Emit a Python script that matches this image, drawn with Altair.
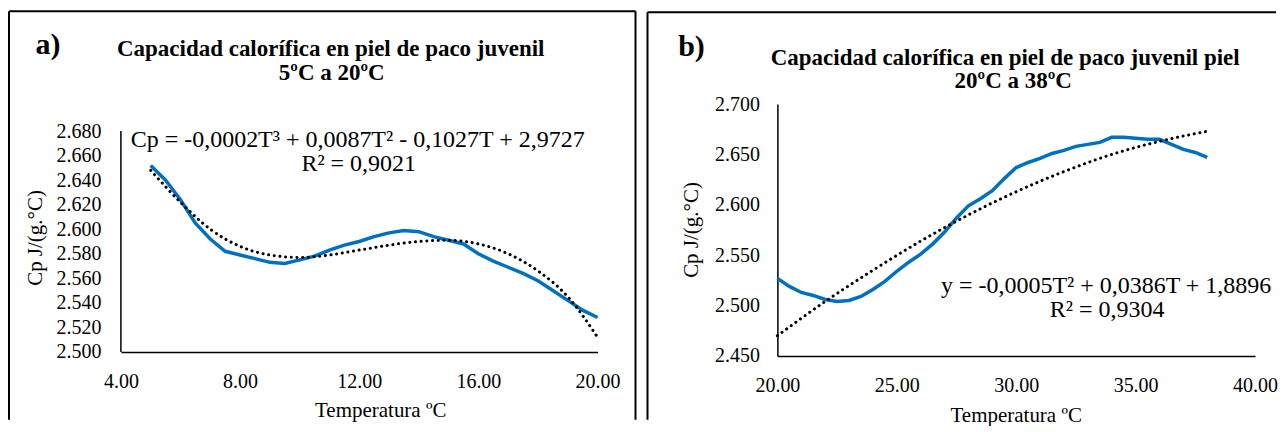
import altair as alt
import pandas as pd

SERIF = "Liberation Serif"
BLUE = "#0070C0"

# ---------------- Panel a) 5 ºC a 20 ºC ----------------
temp_a = [5.0, 5.5, 6.0, 6.5, 7.0, 7.5, 8.0, 8.5, 9.0, 9.5, 10.0, 10.5, 11.0, 11.5,
          12.0, 12.5, 13.0, 13.5, 14.0, 14.5, 15.0, 15.5, 16.0, 16.5, 17.0, 17.5,
          18.0, 18.5, 19.0, 19.5, 20.0]
cp_a = [2.652, 2.640, 2.624, 2.605, 2.592, 2.582, 2.579, 2.576, 2.573, 2.572, 2.575,
        2.578, 2.583, 2.587, 2.590, 2.594, 2.597, 2.599, 2.598, 2.594, 2.591, 2.588,
        2.580, 2.574, 2.569, 2.564, 2.558, 2.550, 2.542, 2.534, 2.528]
fit_temp_a = [5, 6, 7, 8, 9, 10, 11, 12, 13, 14, 15, 16, 17, 18, 19, 20]
fit_cp_a = [2.648, 2.622, 2.600, 2.586, 2.579, 2.577, 2.579, 2.583, 2.587, 2.590,
            2.591, 2.588, 2.580, 2.566, 2.545, 2.512]
x_ticks_a = [4, 8, 12, 16, 20]
y_ticks_a = [2.50, 2.52, 2.54, 2.56, 2.58, 2.60, 2.62, 2.64, 2.66, 2.68]

# ---------------- Panel b) 20 ºC a 38 ºC ----------------
temp_b = [20.0, 20.5, 21.0, 21.5, 22.0, 22.5, 23.0, 23.5, 24.0, 24.5, 25.0, 25.5,
          26.0, 26.5, 27.0, 27.5, 28.0, 28.5, 29.0, 29.5, 30.0, 30.5, 31.0, 31.5,
          32.0, 32.5, 33.0, 33.5, 34.0, 34.5, 35.0, 35.5, 36.0, 36.5, 37.0, 37.5, 38.0]
cp_b = [2.527, 2.519, 2.513, 2.510, 2.506, 2.504, 2.505, 2.509, 2.516, 2.524, 2.534,
        2.543, 2.551, 2.561, 2.573, 2.587, 2.599, 2.606, 2.614, 2.626, 2.637, 2.642,
        2.646, 2.651, 2.654, 2.658, 2.660, 2.662, 2.667, 2.667, 2.666, 2.665, 2.665,
        2.660, 2.655, 2.652, 2.647]
fit_temp_b = [20, 22, 24, 26, 28, 30, 32, 34, 36, 38]
fit_cp_b = [2.470, 2.504, 2.535, 2.564, 2.590, 2.613, 2.633, 2.650, 2.663, 2.673]
x_ticks_b = [20, 25, 30, 35, 40]
y_ticks_b = [2.45, 2.50, 2.55, 2.60, 2.65, 2.70]

label_a = "a)"
title_a = ["Capacidad calorífica en piel de paco juvenil", "5ºC a 20ºC"]
eq_a = ["Cp = -0,0002T³ + 0,0087T² - 0,1027T + 2,9727", "R² = 0,9021"]
label_b = "b)"
title_b = ["Capacidad calorífica en piel de paco juvenil piel", "20ºC a 38ºC"]
eq_b = ["y = -0,0005T² + 0,0386T + 1,8896", "R² = 0,9304"]
y_title = "Cp J/(g.°C)"
x_title = "Temperatura ºC"

one = alt.Data(values=[{"k": 1}])


def txt(s, x, y, size, bold=False, angle=0, baseline="alphabetic"):
    return alt.Chart(one).mark_text(
        text=s, font=SERIF, fontSize=size, fontWeight="bold" if bold else "normal",
        angle=angle, baseline=baseline, align="center", color="black"
    ).encode(x=alt.value(x), y=alt.value(y))


def rule(x, y, x2=None, y2=None):
    enc = dict(x=alt.value(x), y=alt.value(y))
    if x2 is not None:
        enc["x2"] = alt.value(x2)
    if y2 is not None:
        enc["y2"] = alt.value(y2)
    return alt.Chart(one).mark_rule(color="black", strokeWidth=2).encode(**enc)


def axes(xdom, ydom, xt, yt, ypad, draw_ydomain):
    xenc = alt.X("T:Q", scale=alt.Scale(domain=xdom, nice=False, zero=False),
                 axis=alt.Axis(values=xt, format=".2f", title=None, labelPadding=20))
    yenc = alt.Y("Cp:Q", scale=alt.Scale(domain=ydom, nice=False, zero=False),
                 axis=alt.Axis(values=yt, format=".3f", title=None, labelPadding=ypad,
                               domain=draw_ydomain, labelOverlap=False))
    return xenc, yenc


def lines(temps, cps, ftemps, fcps, xenc, yenc):
    d = pd.DataFrame({"T": temps, "Cp": cps})
    f = pd.DataFrame({"T": ftemps, "Cp": fcps})
    blue = alt.Chart(d).mark_line(color=BLUE, strokeWidth=3.5).encode(x=xenc, y=yenc)
    dots = alt.Chart(f).mark_line(color="black", strokeWidth=3, strokeDash=[0.1, 5.6],
                                  strokeCap="round", interpolate="monotone").encode(x=xenc, y=yenc)
    return blue, dots


# Panel a
xa, ya = axes([4, 20], [2.5, 2.702], x_ticks_a, y_ticks_a, 20, False)
blue_a, dots_a = lines(temp_a, cp_a, fit_temp_a, fit_cp_a, xa, ya)
ya_rule = alt.Y("lo:Q", scale=alt.Scale(domain=[2.5, 2.702], nice=False, zero=False),
                axis=alt.Axis(values=y_ticks_a, format=".3f", title=None, labelPadding=20,
                              domain=False, labelOverlap=False))
yaxis_a = alt.Chart(alt.Data(values=[{"lo": y_ticks_a[0], "hi": y_ticks_a[-1]}])).mark_rule(
    color="black", strokeWidth=1.5).encode(x=alt.value(0), y=ya_rule, y2="hi:Q")
chart_a = alt.layer(
    rule(-112, -93, x2=515), rule(-112, -93, y2=316), rule(515, -93, y2=316),
    blue_a, dots_a, yaxis_a,
    txt(label_a, -73, -50, 30, bold=True),
    txt(title_a[0], 210, -48, 23, bold=True),
    txt(title_a[1], 211, -24, 23, bold=True),
    txt(eq_a[0], 237, 43, 24),
    txt(eq_a[1], 238, 67, 24),
    txt(y_title, -85, 134, 21, angle=270, baseline="middle"),
    txt(x_title, 260, 313, 21),
).properties(width=477, height=248)

# Panel b
xb, yb = axes([20, 40], [2.45, 2.70], x_ticks_b, y_ticks_b, 18, True)
blue_b, dots_b = lines(temp_b, cp_b, fit_temp_b, fit_cp_b, xb, yb)
chart_b = alt.layer(
    rule(-130, -92, x2=499), rule(-130, -92, y2=316),
    blue_b, dots_b,
    txt(label_b, -86, -48, 30, bold=True),
    txt(title_b[0], 228, -39, 23, bold=True),
    txt(title_b[1], 236, -16, 23, bold=True),
    txt(eq_b[0], 329, 189, 24),
    txt(eq_b[1], 330, 213, 24),
    txt(y_title, -85, 126, 21, angle=270, baseline="middle"),
    txt(x_title, 239, 318, 21),
).properties(width=478, height=252)

chart = alt.hconcat(chart_a, chart_b, spacing=180, bounds="flush").properties(
    padding={"left": 0, "top": 2, "right": 0, "bottom": 0}
).configure_view(stroke=None).configure_axis(
    labelFont=SERIF, labelFontSize=20, labelColor="black", ticks=False, grid=False,
    domainColor="black", domainWidth=1.5, labelFlush=False, labelOverlap=False
)

chart.save("out.html", embed_options={"renderer": "svg", "actions": False})
